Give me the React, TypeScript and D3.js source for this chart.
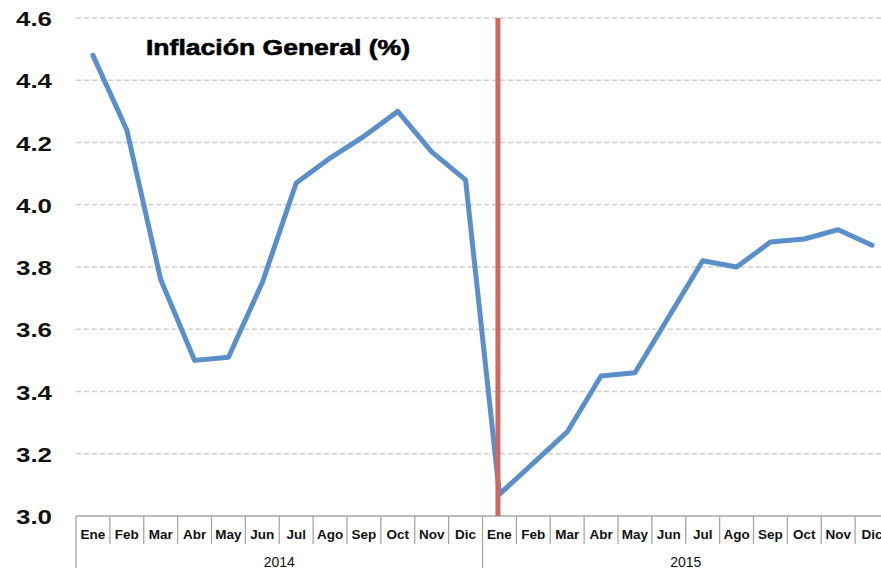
import React from 'react';
import { scaleBand, scaleLinear, line } from 'd3';

const months = ['Ene', 'Feb', 'Mar', 'Abr', 'May', 'Jun', 'Jul', 'Ago', 'Sep', 'Oct', 'Nov', 'Dic'];
const years = ['2014', '2015'];
const inflation2014 = [4.48, 4.24, 3.76, 3.50, 3.51, 3.75, 4.07, 4.15, 4.22, 4.30, 4.17, 4.08];
const inflation2015 = [3.07, 3.17, 3.27, 3.45, 3.46, 3.64, 3.82, 3.80, 3.88, 3.89, 3.92, 3.87];
const yTicks = [3.0, 3.2, 3.4, 3.6, 3.8, 4.0, 4.2, 4.4, 4.6];
const title = 'Inflación General (%)';

const W = 881;
const H = 568;
const left = 76;
const right = 889;
const top = 18;
const bottom = 516;

const points = [
  ...inflation2014.map((v, i) => ({ key: `${years[0]}-${i}`, value: v })),
  ...inflation2015.map((v, i) => ({ key: `${years[1]}-${i}`, value: v })),
];

const x = scaleBand<string>()
  .domain(points.map((d) => d.key))
  .range([left, right])
  .padding(0);
const y = scaleLinear().domain([3.0, 4.6]).range([bottom, top]);
const cx = (k: string) => (x(k) as number) + x.bandwidth() / 2;

const path = line<{ key: string; value: number }>()
  .x((d) => cx(d.key))
  .y((d) => y(d.value));

const font = '"Liberation Sans", Arial, sans-serif';

const App = () => {
  const splitKey = `${years[1]}-0`;
  return (
    <svg
      width={W}
      height={H}
      style={{ position: 'absolute', left: 0, top: 0, background: '#fff' }}
      fontFamily={font}
    >
      {/* gridlines */}
      {yTicks.slice(1).map((t) => (
        <line
          key={t}
          x1={left}
          x2={right}
          y1={y(t)}
          y2={y(t)}
          stroke="#cfcfcf"
          strokeWidth={1.3}
          strokeDasharray="5,3"
        />
      ))}
      {/* y labels */}
      {yTicks.map((t) => (
        <text
          key={t}
          x={52}
          y={y(t) + 8}
          textAnchor="end"
          fontSize={21}
          fontWeight="bold"
          fill="#111"
          textLength={36}
          lengthAdjust="spacingAndGlyphs"
        >
          {t.toFixed(1)}
        </text>
      ))}
      {/* x axis */}
      <line x1={left} x2={right} y1={bottom} y2={bottom} stroke="#a6a6a6" strokeWidth={1.5} />
      {points.map((d, i) => {
        const x0 = x(d.key) as number;
        const yearStart = i % 12 === 0;
        return (
          <line
            key={`t-${d.key}`}
            x1={x0}
            x2={x0}
            y1={bottom}
            y2={yearStart ? H : 544}
            stroke="#a6a6a6"
            strokeWidth={1.3}
          />
        );
      })}
      {points.map((d, i) => (
        <text
          key={`m-${d.key}`}
          x={cx(d.key)}
          y={539}
          textAnchor="middle"
          fontSize={13.5}
          fontWeight="bold"
          fill="#111"
        >
          {months[i % 12]}
        </text>
      ))}
      {years.map((yr) => {
        const a = x(`${yr}-0`) as number;
        const b = (x(`${yr}-11`) as number) + x.bandwidth();
        return (
          <text key={yr} x={(a + b) / 2} y={567} textAnchor="middle" fontSize={14} fill="#111">
            {yr}
          </text>
        );
      })}
      {/* series */}
      <path
        d={path(points) || ''}
        fill="none"
        stroke="#5b8fc9"
        strokeWidth={5}
        strokeLinejoin="round"
        strokeLinecap="round"
      />
      {/* year split marker */}
      <line
        x1={cx(splitKey) - 1.5}
        x2={cx(splitKey) - 1.5}
        y1={top}
        y2={bottom}
        stroke="#d4675d"
        strokeWidth={5}
      />
      <text
        x={146}
        y={55}
        fontSize={22}
        fontWeight="bold"
        fill="#000"
        stroke="#000"
        strokeWidth={0.6}
        textLength={264}
        lengthAdjust="spacingAndGlyphs"
      >
        {title}
      </text>
    </svg>
  );
};

export default App;
